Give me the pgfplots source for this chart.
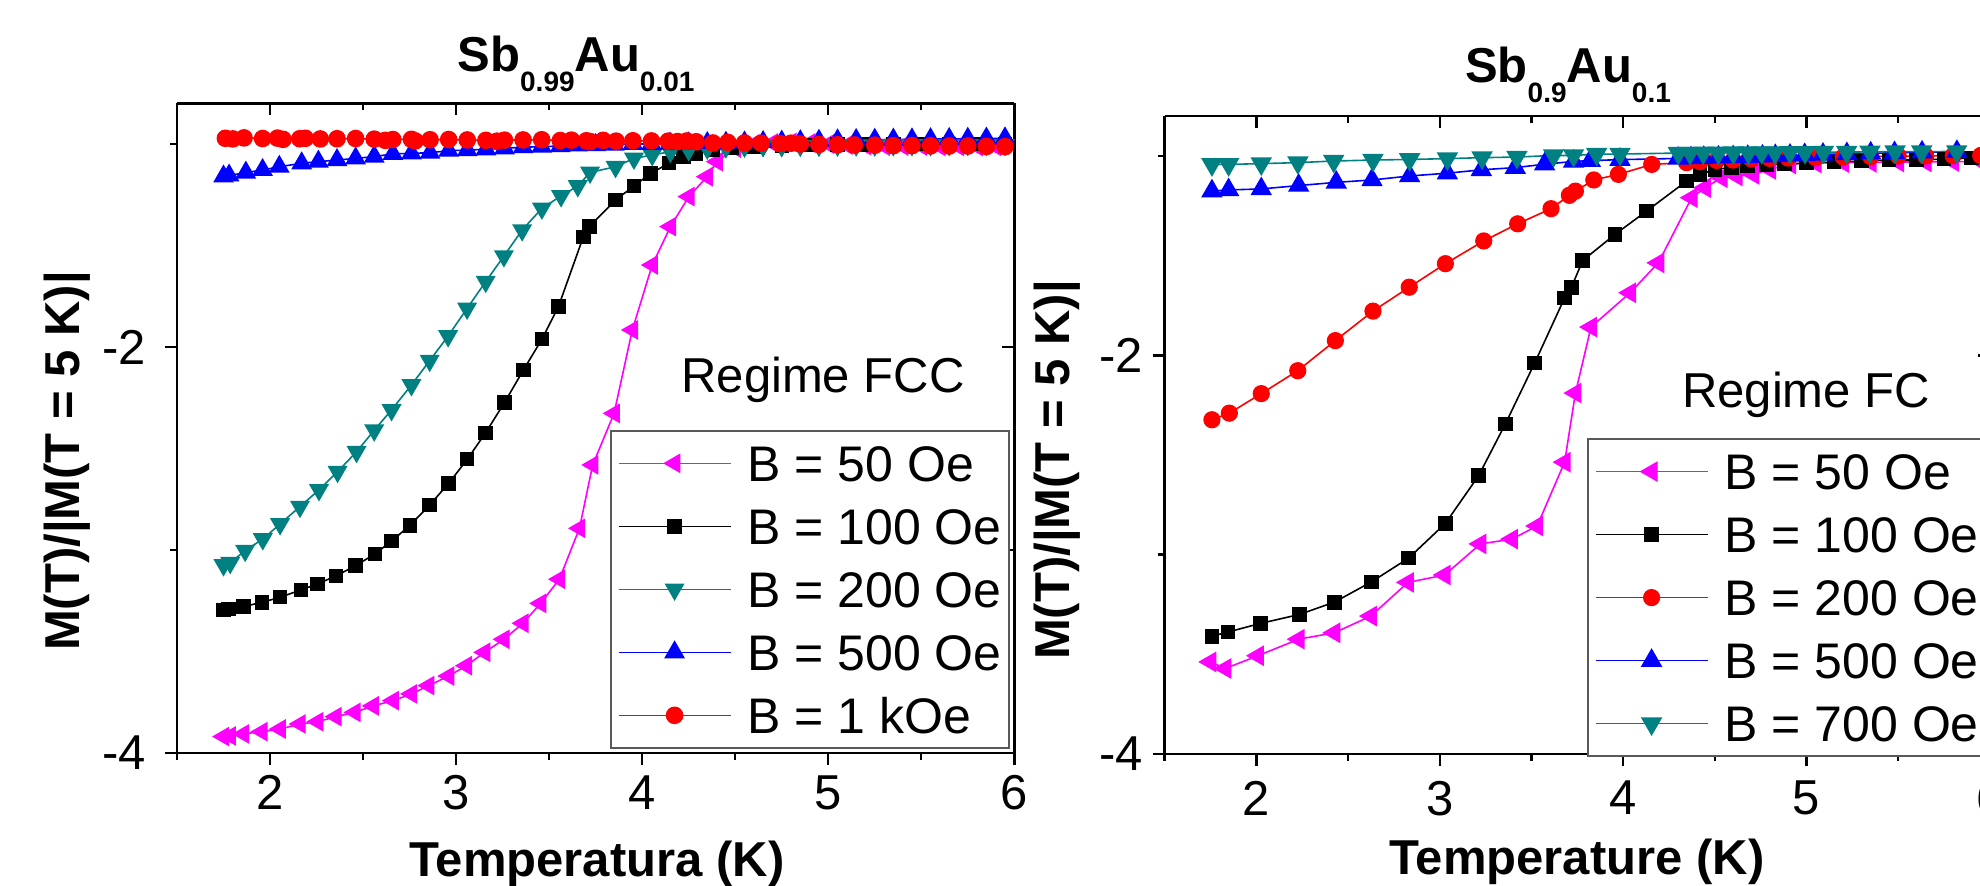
\documentclass[border=0pt]{standalone}
\usepackage{pgfplots}
\pgfplotsset{compat=1.18}
\usepackage{fontspec}
\setmainfont{Liberation Sans}
\definecolor{mag}{RGB}{255,0,255}
\definecolor{tl}{RGB}{0,128,128}
\definecolor{bl}{RGB}{0,0,255}
\definecolor{rd}{RGB}{255,0,0}
\newcommand{\fs}{\fontsize{12.25}{14}\selectfont}
\newcommand{\subs}[1]{\raisebox{-4.9pt}{\fontsize{7}{8}\selectfont #1}}

\pgfplotsset{
  mybase/.style={
    scale only axis, anchor=south west,
    xmin=1.5, xmax=6, ymin=-4, ymax=-0.8,
    xtick={2,3,4,5,6}, minor xtick={1.5,2.5,3.5,4.5,5.5},
    ytick={-4,-2}, minor ytick={-3,-1},
    major tick length=3pt, minor tick length=1.75pt,
    axis line style={line width=0.6pt,-},
    every tick/.style={line width=0.6pt,black},
  },
  frameaxis/.style={mybase, axis x line*=top, axis y line*=right, tick align=inside,
    xticklabels={}, yticklabels={}},
  mainaxis/.style={mybase, axis x line*=bottom, axis y line*=left, tick align=outside,
    xticklabels={2,3,4,5,6}, yticklabels={-4,-2},
    tick label style={font=\fs},
    legend cell align=left,
    legend image code/.code={\draw[mark repeat=2,mark phase=2] plot coordinates {(0pt,0pt) (14pt,0pt) (28pt,0pt)};
      \path (32pt,0pt);},
  },
  mylegend/.style={legend style={at={#1}, anchor=north west,
    draw=black!65, line width=0.4pt, fill=white,
    inner xsep=1.75pt, inner ysep=0.25pt, font=\fontsize{12.5}{14}\selectfont, row sep=0pt,
    nodes={inner xsep=0pt, inner ysep=0pt, text height=12.3pt, text depth=3.45pt}}},
}

\pgfplotstableread{
T M
1.750 -3.919
1.786 -3.916
1.857 -3.906
1.956 -3.895
2.054 -3.882
2.161 -3.857
2.256 -3.846
2.354 -3.821
2.456 -3.800
2.554 -3.768
2.662 -3.742
2.760 -3.709
2.853 -3.668
2.960 -3.621
3.055 -3.570
3.153 -3.504
3.257 -3.440
3.359 -3.361
3.454 -3.263
3.555 -3.144
3.663 -2.893
3.734 -2.581
3.849 -2.327
3.947 -1.916
4.054 -1.596
4.152 -1.407
4.251 -1.259
4.349 -1.161
4.403 -1.087
4.50 -1.020
4.60 -1.000
4.70 -0.995
4.80 -0.992
4.90 -0.995
5.00 -1.000
5.10 -1.005
5.20 -1.008
5.30 -1.010
5.40 -1.010
5.50 -1.010
5.60 -1.012
5.70 -1.012
5.80 -1.012
5.90 -1.012
}\Lpink

\pgfplotstableread{
T M
1.750 -3.296
1.777 -3.292
1.857 -3.279
1.956 -3.258
2.054 -3.233
2.165 -3.197
2.256 -3.167
2.354 -3.128
2.460 -3.077
2.563 -3.020
2.653 -2.956
2.751 -2.880
2.858 -2.778
2.960 -2.672
3.060 -2.553
3.157 -2.425
3.260 -2.274
3.362 -2.113
3.461 -1.962
3.550 -1.801
3.684 -1.457
3.716 -1.407
3.857 -1.276
3.956 -1.207
4.045 -1.145
4.144 -1.095
4.223 -1.062
4.286 -1.046
4.38 -1.030
4.48 -1.020
4.60 -1.012
4.75 -1.008
4.90 -1.005
5.05 -1.003
5.20 -1.002
5.35 -1.001
5.50 -1.000
5.65 -1.000
5.80 -1.000
5.95 -1.000
}\Lblack

\pgfplotstableread{
T M
1.750 -3.074
1.786 -3.063
1.866 -3.003
1.961 -2.946
2.054 -2.872
2.161 -2.786
2.263 -2.704
2.363 -2.614
2.465 -2.516
2.560 -2.410
2.653 -2.310
2.760 -2.187
2.858 -2.067
2.957 -1.946
3.059 -1.810
3.159 -1.678
3.257 -1.552
3.355 -1.424
3.461 -1.317
3.564 -1.256
3.654 -1.207
3.720 -1.140
3.857 -1.112
3.956 -1.071
4.054 -1.054
4.152 -1.038
4.25 -1.030
4.35 -1.022
4.45 -1.016
4.55 -1.012
4.65 -1.010
4.75 -1.010
4.85 -1.008
4.95 -1.008
5.05 -1.007
5.15 -1.006
5.25 -1.006
5.35 -1.005
5.45 -1.005
5.55 -1.005
5.65 -1.004
5.75 -1.004
5.85 -1.004
5.95 -1.004
}\Lteal

\pgfplotstableread{
T M
1.75 -1.160
1.78 -1.155
1.87 -1.141
1.96 -1.128
2.05 -1.112
2.17 -1.095
2.26 -1.087
2.36 -1.079
2.46 -1.071
2.56 -1.062
2.66 -1.049
2.76 -1.046
2.86 -1.043
2.96 -1.033
3.06 -1.030
3.16 -1.026
3.26 -1.021
3.36 -1.016
3.46 -1.013
3.56 -1.010
3.65 -1.007
3.75 -1.005
3.85 -1.003
3.95 -1.000
4.05 -1.000
4.15 -0.998
4.25 -0.997
4.35 -0.995
4.45 -0.994
4.55 -0.992
4.65 -0.990
4.75 -0.988
4.85 -0.986
4.95 -0.984
5.05 -0.982
5.15 -0.980
5.25 -0.979
5.35 -0.978
5.45 -0.977
5.55 -0.976
5.65 -0.975
5.75 -0.974
5.85 -0.973
5.95 -0.972
}\Lblue

\pgfplotstableread{
T M
1.76 -0.972
1.80 -0.975
1.86 -0.970
1.96 -0.973
2.04 -0.971
2.07 -0.977
2.16 -0.974
2.19 -0.972
2.27 -0.975
2.36 -0.974
2.46 -0.973
2.56 -0.976
2.62 -0.982
2.66 -0.978
2.76 -0.977
2.78 -0.985
2.86 -0.979
2.96 -0.978
3.06 -0.980
3.16 -0.982
3.22 -0.986
3.26 -0.981
3.36 -0.980
3.46 -0.979
3.56 -0.983
3.62 -0.981
3.70 -0.984
3.72 -0.988
3.79 -0.982
3.86 -0.986
3.95 -0.984
4.05 -0.985
4.14 -0.986
4.19 -0.988
4.24 -0.985
4.29 -0.989
4.38 -0.995
4.46 -0.992
4.55 -0.995
4.64 -0.996
4.74 -0.998
4.80 -0.996
4.85 -1.000
4.95 -1.002
5.05 -1.004
5.14 -1.005
5.25 -1.006
5.35 -1.008
5.45 -1.008
5.55 -1.009
5.65 -1.010
5.75 -1.010
5.85 -1.012
5.95 -1.013
}\Lred

\pgfplotstableread{
T M
1.749 -3.538
1.831 -3.571
2.009 -3.507
2.231 -3.424
2.425 -3.392
2.625 -3.308
2.827 -3.139
3.027 -3.102
3.222 -2.946
3.394 -2.922
3.531 -2.856
3.681 -2.536
3.740 -2.189
3.825 -1.858
4.038 -1.686
4.192 -1.536
4.374 -1.209
4.447 -1.159
4.537 -1.109
4.619 -1.100
4.710 -1.092
4.801 -1.067
4.910 -1.040
5.05 -1.035
5.20 -1.033
5.35 -1.032
5.50 -1.030
5.65 -1.030
5.80 -1.028
5.95 -1.027
}\Rpink

\pgfplotstableread{
T M
1.758 -3.409
1.846 -3.388
2.022 -3.345
2.235 -3.300
2.426 -3.238
2.627 -3.137
2.831 -3.017
3.031 -2.843
3.212 -2.604
3.358 -2.344
3.518 -2.038
3.681 -1.712
3.718 -1.658
3.780 -1.524
3.956 -1.393
4.128 -1.276
4.347 -1.125
4.419 -1.092
4.501 -1.067
4.592 -1.058
4.68 -1.050
4.78 -1.045
4.88 -1.040
5.00 -1.035
5.15 -1.030
5.30 -1.025
5.45 -1.020
5.60 -1.020
5.75 -1.015
5.90 -1.010
}\Rblack

\pgfplotstableread{
T M
1.758 -2.323
1.853 -2.290
2.027 -2.192
2.226 -2.077
2.431 -1.926
2.636 -1.778
2.834 -1.658
3.031 -1.540
3.240 -1.426
3.425 -1.340
3.607 -1.264
3.707 -1.197
3.740 -1.176
3.840 -1.120
3.974 -1.092
4.156 -1.042
4.346 -1.033
4.42 -1.028
4.51 -1.022
4.60 -1.020
4.70 -1.015
4.80 -1.012
4.90 -1.010
5.05 -1.008
5.20 -1.005
5.35 -1.003
5.50 -1.000
5.65 -1.000
5.80 -0.998
5.95 -0.997
}\Rred

\pgfplotstableread{
T M
1.758 -1.176
1.849 -1.170
2.027 -1.165
2.231 -1.148
2.436 -1.132
2.631 -1.120
2.836 -1.100
3.042 -1.086
3.227 -1.069
3.412 -1.058
3.572 -1.041
3.730 -1.027
3.821 -1.023
3.983 -1.018
4.30 -1.012
4.37 -1.010
4.44 -1.008
4.52 -1.006
4.60 -1.005
4.68 -1.003
4.76 -1.001
4.83 -0.999
4.91 -0.997
4.99 -0.994
5.09 -0.992
5.22 -0.989
5.35 -0.986
5.48 -0.984
5.63 -0.981
5.82 -0.978
}\Rblue

\pgfplotstableread{
T M
1.758 -1.042
1.849 -1.042
2.027 -1.038
2.227 -1.033
2.422 -1.025
2.636 -1.020
2.836 -1.017
3.042 -1.013
3.231 -1.008
3.421 -1.005
3.621 -0.997
3.730 -0.997
3.856 -0.990
3.983 -0.990
4.301 -0.985
4.365 -0.985
4.437 -0.984
4.519 -0.984
4.601 -0.983
4.683 -0.983
4.756 -0.982
4.828 -0.982
4.910 -0.981
4.992 -0.981
5.092 -0.980
5.219 -0.980
5.346 -0.979
5.483 -0.978
5.628 -0.978
5.819 -0.977
}\Rteal

\begin{document}
\begin{tikzpicture}
\useasboundingbox (0pt,0pt) rectangle (495pt,221.5pt);
\clip (0pt,0pt) rectangle (495pt,221.5pt);

% ---------- left panel ----------
\begin{axis}[frameaxis, at={(44.25pt,33.25pt)}, width=209.33pt, height=162.4pt]
\end{axis}
\begin{axis}[mainaxis, at={(44.25pt,33.25pt)}, width=209.33pt, height=162.4pt,
  xticklabel style={inner sep=0pt, anchor=north, yshift=-2.4pt},
  yticklabel style={inner sep=0pt, anchor=east, xshift=-4.5pt},
  mylegend={(0.5171,0.4972)}]
\addplot[color=mag, line width=0.4pt, mark=triangle*, mark size=2.45pt, mark options={rotate=90,solid,fill=mag}] table {\Lpink};
\addlegendentry{B = 50 Oe}
\addplot[color=black, line width=0.4pt, mark=square*, mark size=1.6pt, mark options={solid,fill=black}] table {\Lblack};
\addlegendentry{B = 100 Oe}
\addplot[color=tl, line width=0.4pt, mark=triangle*, mark size=2.5pt, mark options={rotate=180,solid,fill=tl}] table {\Lteal};
\addlegendentry{B = 200 Oe}
\addplot[color=bl, line width=0.4pt, mark=triangle*, mark size=2.6pt, mark options={solid,fill=bl}] table {\Lblue};
\addlegendentry{B = 500 Oe}
\addplot[color=rd, line width=0.4pt, mark=*, mark size=2pt, mark options={solid,fill=rd}] table {\Lred};
\addlegendentry{B = 1 kOe}
\end{axis}

% ---------- right panel ----------
\begin{axis}[frameaxis, at={(291.15pt,33pt)}, width=206.33pt, height=159.45pt]
\end{axis}
\begin{axis}[mainaxis, at={(291.15pt,33pt)}, width=206.33pt, height=159.45pt,
  xticklabel style={inner sep=0pt, anchor=north, yshift=-3.6pt},
  yticklabel style={inner sep=0pt, anchor=east, xshift=-2.15pt},
  mylegend={(0.5118,0.495)}]
\addplot[color=mag, line width=0.4pt, mark=triangle*, mark size=2.6pt, mark options={rotate=90,solid,fill=mag}] table {\Rpink};
\addlegendentry{B = 50 Oe}
\addplot[color=black, line width=0.4pt, mark=square*, mark size=1.65pt, mark options={solid,fill=black}] table {\Rblack};
\addlegendentry{B = 100 Oe}
\addplot[color=rd, line width=0.4pt, mark=*, mark size=1.95pt, mark options={solid,fill=rd}] table {\Rred};
\addlegendentry{B = 200 Oe}
\addplot[color=bl, line width=0.4pt, mark=triangle*, mark size=2.7pt, mark options={solid,fill=bl}] table {\Rblue};
\addlegendentry{B = 500 Oe}
\addplot[color=tl, line width=0.4pt, mark=triangle*, mark size=2.7pt, mark options={rotate=180,solid,fill=tl}] table {\Rteal};
\addlegendentry{B = 700 Oe}
\end{axis}

% ---------- texts ----------
\node[anchor=base, font=\bfseries\fs] at (144pt,203.5pt) {Sb\subs{0.99}Au\subs{0.01}};
\node[anchor=base, font=\bfseries\fs] at (392pt,200.75pt) {Sb\subs{0.9}Au\subs{0.1}};
\node[anchor=base, font=\bfseries\fs] at (149.25pt,2.25pt) {Temperatura (K)};
\node[anchor=base, font=\bfseries\fs] at (394.25pt,2.75pt) {Temperature (K)};
\node[rotate=90, font=\bfseries\fs] at (16.75pt,106.25pt) {M(T)/|M(T = 5 K)|};
\node[rotate=90, font=\bfseries\fs] at (264.25pt,104pt) {M(T)/|M(T = 5 K)|};
\node[anchor=base, font=\fs] at (205.75pt,123.25pt) {Regime FCC};
\node[anchor=base, font=\fs] at (451.5pt,119.5pt) {Regime FC};
\end{tikzpicture}
\end{document}
